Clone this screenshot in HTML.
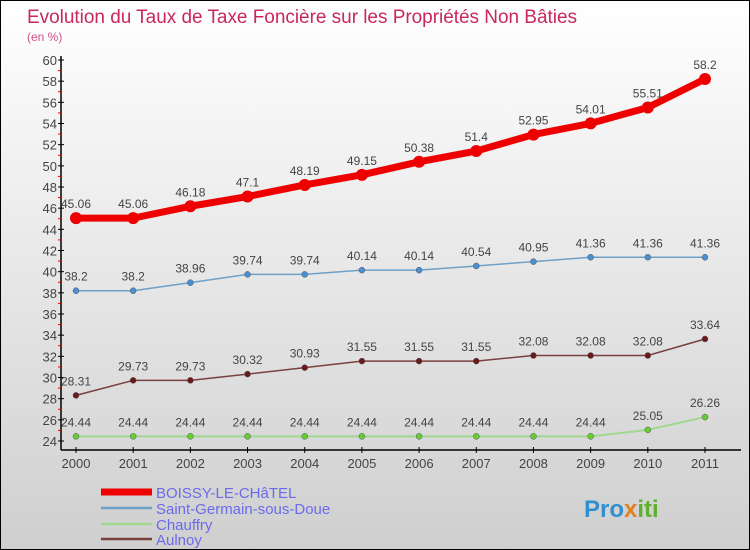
<!DOCTYPE html>
<html><head><meta charset="utf-8"><style>
html,body{margin:0;padding:0}
body{width:750px;height:550px;overflow:hidden;font-family:"Liberation Sans",sans-serif}
#wrap{position:relative;width:748px;height:548px;border:1px solid #000;background:linear-gradient(#ffffff,#cfcfcf)}
</style></head><body>
<div id="wrap">
<svg id="chart" width="748" height="548" style="position:absolute;left:0;top:0">
<text x="26" y="22" font-size="19" fill="#c8285a" textLength="550">Evolution du Taux de Taxe Foncière sur les Propriétés Non Bâties</text>
<text x="26" y="40" font-size="12" fill="#d0508a">(en %)</text>
<g id="axes"></g><g id="series"></g><g id="legend"></g>
</svg>
</div>
<script>
const years=[2000,2001,2002,2003,2004,2005,2006,2007,2008,2009,2010,2011];
const boissy=[45.06,45.06,46.18,47.1,48.19,49.15,50.38,51.4,52.95,54.01,55.51,58.2];
const stGermain=[38.2,38.2,38.96,39.74,39.74,40.14,40.14,40.54,40.95,41.36,41.36,41.36];
const chauffry=[24.44,24.44,24.44,24.44,24.44,24.44,24.44,24.44,24.44,24.44,25.05,26.26];
const aulnoy=[28.31,29.73,29.73,30.32,30.93,31.55,31.55,31.55,32.08,32.08,32.08,33.64];
const yTicks=[24,26,28,30,32,34,36,38,40,42,44,46,48,50,52,54,56,58,60];
const seriesNames=["BOISSY-LE-CHâTEL","Saint-Germain-sous-Doue","Chauffry","Aulnoy"];

const NS="http://www.w3.org/2000/svg";
function X(i){return 75+i*(704-75)/(years.length-1);}
function Y(v){return 440-(v-24)*(440-59)/36;}
function mk(p,tag,a){const e=document.createElementNS(NS,tag);for(const k in a)e.setAttribute(k,a[k]);p.appendChild(e);return e;}
const axes=document.getElementById('axes');
let e=mk(axes,'line',{x1:60,y1:55,x2:60,y2:449,stroke:'#000','stroke-width':1.5});

e=mk(axes,'line',{x1:60,y1:449,x2:740,y2:449,stroke:'#000','stroke-width':1.5});

yTicks.forEach(t=>{
  const y=Y(t);
  mk(axes,'line',{x1:57,y1:y,x2:63,y2:y,stroke:'#000'});
  if(t<60) mk(axes,'line',{x1:57,y1:Y(t+1),x2:60,y2:Y(t+1),stroke:'#e00'});
  const tx=mk(axes,'text',{x:56,y:y+5,'font-size':13,fill:'#444','text-anchor':'end'});
  tx.textContent=t;
  
  
});
years.forEach((yr,i)=>{
  mk(axes,'line',{x1:X(i),y1:446,x2:X(i),y2:452,stroke:'#000'});
  const tx=mk(axes,'text',{x:X(i),y:467,'font-size':13,fill:'#444','text-anchor':'middle'});
  tx.textContent=yr;
  
  
});
const ser=document.getElementById('series');
const defs=[[boissy,'#ee0000',7,6,'#ee0000'],[stGermain,'#6fa0c8',1.5,3,'#4a90d0'],[chauffry,'#a0d890',2,3,'#66cc33'],[aulnoy,'#7a4040',1.5,3,'#6a1a1a']];
defs.forEach((d,si)=>{
  const [vals,col,w,r,pc]=d;
  const g=mk(ser,'g',{});
  
  
  const pl=mk(g,'polyline',{points:vals.map((v,i)=>X(i)+','+Y(v)).join(' '),fill:'none',stroke:col,'stroke-width':w,'stroke-linejoin':'round'});
  
  
  vals.forEach((v,i)=>{
    const c=mk(g,'circle',{cx:X(i),cy:Y(v),r:r,fill:pc,stroke:si==0?'none':'#555','stroke-width':0.5});
    
    
    const t=mk(g,'text',{x:X(i),y:Y(v)-10,'font-size':12,fill:'#444','text-anchor':'middle'});
    t.textContent=v;
    
    
  });
});
const lg=document.getElementById('legend');
const ly=[491,507,523,538];
defs.forEach((d,si)=>{
  const g=mk(lg,'g',{});
  
  
  mk(g,'line',{x1:100,y1:ly[si],x2:151,y2:ly[si],stroke:d[1],'stroke-width':si==0?7:2.5});
  const t=mk(g,'text',{x:155,y:ly[si]+6,'font-size':15,fill:'#6a6aee'});
  t.textContent=seriesNames[si];
});
const logo=mk(lg,'text',{x:583,y:516,'font-size':24,'font-weight':'bold',fill:'#e08020'});


[['Pro','#3090d0'],['x','#e08020'],['iti','#60b030']].forEach(p=>{const s=mk(logo,'tspan',{fill:p[1]});s.textContent=p[0];});
</script>
</body></html>
